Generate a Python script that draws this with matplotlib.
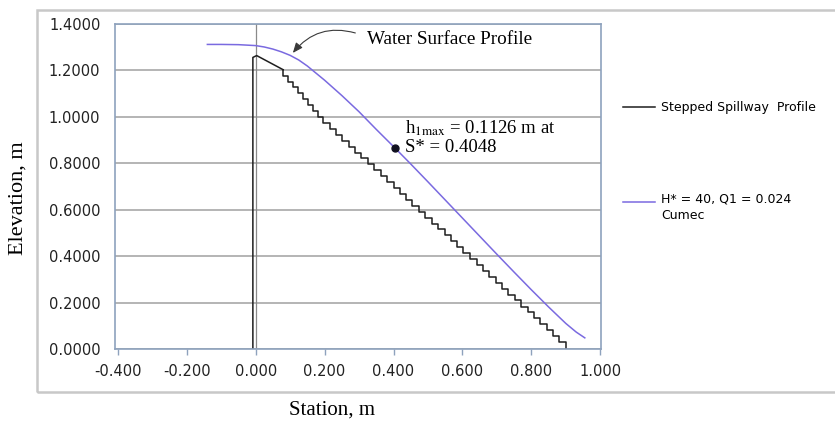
"""Stepped spillway profile with the computed water surface profile."""

import matplotlib

matplotlib.use("Agg")

import matplotlib.pyplot as plt
from matplotlib.patches import Rectangle

plt.rcParams["mathtext.fontset"] = "stix"

# stepped spillway: upstream face + crest, then the step corners (x, y)
crest_x = [-0.008, -0.008, 0.003, 0.080]
crest_y = [0.000, 1.256, 1.264, 1.203]
step_x = [0.080, 0.095, 0.109, 0.124, 0.138, 0.153, 0.167, 0.182, 0.196,
          0.215, 0.233, 0.252, 0.270, 0.289, 0.307, 0.326, 0.344, 0.363,
          0.381, 0.400, 0.418, 0.437, 0.455, 0.474, 0.492, 0.511, 0.529,
          0.548, 0.566, 0.585, 0.603, 0.622, 0.641, 0.659, 0.678, 0.696,
          0.715, 0.733, 0.752, 0.770, 0.789, 0.807, 0.826, 0.844, 0.863,
          0.881, 0.900, 0.900]
step_y = [1.203, 1.178, 1.152, 1.127, 1.101, 1.076, 1.050, 1.025, 0.999,
          0.974, 0.948, 0.923, 0.897, 0.872, 0.846, 0.821, 0.795, 0.770,
          0.744, 0.719, 0.693, 0.668, 0.642, 0.617, 0.591, 0.566, 0.540,
          0.515, 0.489, 0.464, 0.438, 0.413, 0.387, 0.362, 0.336, 0.311,
          0.285, 0.260, 0.234, 0.209, 0.183, 0.158, 0.132, 0.107, 0.081,
          0.056, 0.030, 0.000]

# water surface profile, H* = 40, Q1 = 0.024 cumec
ws_x = [-0.140, -0.100, -0.050, 0.000, 0.025, 0.050, 0.075, 0.100, 0.125,
        0.150, 0.200, 0.250, 0.300, 0.350, 0.4048, 0.450, 0.500, 0.550,
        0.600, 0.650, 0.700, 0.750, 0.800, 0.850, 0.900, 0.930, 0.955]
ws_y = [1.312, 1.312, 1.311, 1.307, 1.301, 1.292, 1.280, 1.265, 1.245,
        1.219, 1.158, 1.092, 1.022, 0.946, 0.865, 0.797, 0.720, 0.642,
        0.564, 0.486, 0.408, 0.331, 0.255, 0.181, 0.110, 0.073, 0.048]

h1max_x, h1max_y = 0.4048, 0.865
arrow_tip = (0.103, 1.266)
arrow_tail = (0.297, 1.358)

x_ticks = [-0.4, -0.2, 0.0, 0.2, 0.4, 0.6, 0.8, 1.0]
y_ticks = [0.0, 0.2, 0.4, 0.6, 0.8, 1.0, 1.2, 1.4]

W, H = 835, 421
BORDER = "#8ea2bd"
SERIF = ["Liberation Serif", "DejaVu Serif"]

fig = plt.figure(figsize=(W / 100, H / 100), dpi=100)
fig.patches.append(Rectangle((37 / W, 1 - 392 / H), 810 / W, 382 / H,
                             transform=fig.transFigure, fill=False,
                             edgecolor="#c8c8c8", linewidth=1.8))

ax = fig.add_axes([115 / W, 1 - 349 / H, 486 / W, 325 / H])
ax.set_xlim(-0.408, 1.002)
ax.set_ylim(0, 1.4)

ax.set_yticks(y_ticks)
ax.set_xticks(x_ticks)
ax.set_yticklabels([f"{v:.4f}" for v in y_ticks])
ax.set_xticklabels([f"{v:.3f}" for v in x_ticks])
ax.tick_params(axis="y", length=0, pad=10.5, labelsize=10.5, labelcolor="#222222")
ax.tick_params(axis="x", length=4, width=1, color=BORDER, pad=7,
               labelsize=10.5, labelcolor="#222222")
for side in ax.spines.values():
    side.set_color(BORDER)
    side.set_linewidth(1.2)
ax.grid(axis="y", color="#a8a8a8", linewidth=1.2)
ax.set_axisbelow(True)
ax.axvline(0.0, color="#8a8a8a", linewidth=0.9, zorder=1)

ax.plot(crest_x, crest_y, color="#1e1e1e", linewidth=1.1)
ax.plot(step_x, step_y, drawstyle="steps-pre", color="#1e1e1e", linewidth=1.1,
        label="Stepped Spillway  Profile")
ax.plot(ws_x, ws_y, color="#7a6ae0", linewidth=1.1,
        label="H* = 40, Q1 = 0.024\nCumec")
ax.plot([h1max_x], [h1max_y], "o", color="#101020", markersize=5)

ax.annotate("", xy=arrow_tip, xytext=arrow_tail,
            arrowprops=dict(arrowstyle="-|>,head_length=0.6,head_width=0.25",
                            color="#3a3a3a", linewidth=0.8,
                            connectionstyle="arc3,rad=0.35"))
ax.text(0.322, 1.334, "Water Surface Profile", family=SERIF, fontsize=13.8,
        va="center", ha="left")
ax.text(0.434, 0.953, r"h$_{\mathrm{1max}}$ = 0.1126 m at", family=SERIF,
        fontsize=13.5, va="center", ha="left")
ax.text(0.434, 0.870, "S* = 0.4048", family=SERIF, fontsize=13.5,
        va="center", ha="left")

leg = fig.legend(loc="upper left", bbox_to_anchor=(623 / W, 1 - 101 / H),
                 frameon=False, fontsize=9, handlelength=2.55,
                 handletextpad=0.5, labelspacing=6.3, borderpad=0,
                 borderaxespad=0)
for t in leg.get_texts():
    t.set_linespacing(1.3)
# keep the purple key level with the first line of its two-line label
leg_line = leg.get_lines()[1]
leg_line.set_ydata(leg_line.get_ydata() + 4.5)

fig.text(332 / W, 1 - 410 / H, "Station, m", family=SERIF, fontsize=15,
         ha="center", va="center")
fig.text(18 / W, 1 - 198 / H, "Elevation, m", family=SERIF, fontsize=16,
         ha="center", va="center", rotation=90)

fig.savefig("out.png", dpi=100)
